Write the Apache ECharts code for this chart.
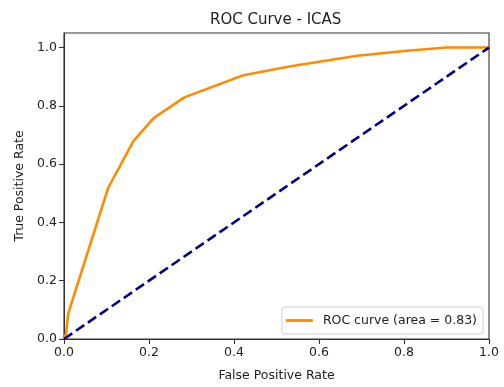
<!DOCTYPE html>
<html>
<head>
    <meta charset="utf-8">
    <script src="https://cdn.jsdelivr.net/npm/echarts@6/dist/echarts.min.js"></script>
</head>
<body style="margin:0">
<div id="main" style="width: 504px;height:387px;"></div>

<script type="text/javascript">
    // ROC curve points
    var fpr = [0, 0.005, 0.01, 0.104, 0.163, 0.21, 0.283, 0.422, 0.53, 0.69, 0.80, 0.90, 1.0];
    var tpr = [0, 0.02, 0.088, 0.519, 0.678, 0.757, 0.829, 0.905, 0.935, 0.972, 0.988, 1.0, 1.0];
    var diagX = [0, 1];
    var diagY = [0, 1];
    var tickValues = [0, 0.2, 0.4, 0.6, 0.8, 1.0];
    var rocName = 'ROC curve (area = 0.83)';

    var font = 'DejaVu Sans';
    var ink = '#222';
    var myChart = echarts.init(document.getElementById('main'));

    function pairs(xs, ys) {
        return xs.map(function (x, i) { return [x, ys[i]]; });
    }
    function fmt(v) { return v.toFixed(1); }

    var option = {
        animation: false,
        textStyle: { fontFamily: font },
        title: {
            text: 'ROC Curve - ICAS',
            left: 205, top: 8,
            textStyle: { fontFamily: font, fontSize: 15, fontWeight: 'normal', color: ink }
        },
        grid: {
            left: 64, right: 15, top: 33, bottom: 46,
            show: true, borderColor: '#333', borderWidth: 1.1, backgroundColor: '#fff'
        },
        legend: {
            data: [{ name: rocName, icon: 'path://M0,0 L28,0 L28,3 L0,3 Z' }],
            right: 21, bottom: 53,
            itemWidth: 27, itemHeight: 3,
            padding: [7, 6, 7, 4],
            borderColor: '#d0d0d0', borderWidth: 1, borderRadius: 3,
            backgroundColor: '#fff',
            textStyle: { fontFamily: font, fontSize: 12.5, color: ink, padding: [0, 0, 0, 5] }
        },
        xAxis: {
            type: 'value', min: 0, max: 1, interval: 0.2,
            name: 'False Positive Rate', nameLocation: 'middle', nameGap: 30,
            nameTextStyle: { fontFamily: font, fontSize: 12.5, color: ink },
            axisLine: { lineStyle: { color: '#333', width: 1.1 } },
            axisTick: { show: true, length: 5, lineStyle: { color: '#333', width: 1.1 } },
            axisLabel: { formatter: fmt, fontSize: 12.5, color: ink, margin: 7, fontFamily: font },
            splitLine: { show: false }
        },
        yAxis: {
            type: 'value', min: 0, max: 1.05,
            name: 'True Positive Rate', nameLocation: 'middle', nameGap: 38,
            nameTextStyle: { fontFamily: font, fontSize: 12.5, color: ink },
            axisLine: { show: true, lineStyle: { color: '#333', width: 1.1 } },
            axisTick: { show: true, length: 5, customValues: tickValues, lineStyle: { color: '#333', width: 1.1 } },
            axisLabel: { customValues: tickValues, formatter: fmt, fontSize: 12.5, color: ink, margin: 7, fontFamily: font },
            splitLine: { show: false }
        },
        series: [
            {
                name: rocName,
                type: 'line',
                data: pairs(fpr, tpr),
                symbol: 'none',
                lineStyle: { color: '#ff8c00', width: 2.6 },
                itemStyle: { color: '#ff8c00' }
            },
            {
                name: 'diag',
                type: 'line',
                data: pairs(diagX, diagY),
                symbol: 'none',
                lineStyle: { color: '#000080', width: 2.6, type: [10, 4.5] }
            }
        ]
    };
    myChart.setOption(option);
</script>
</body>
</html>
